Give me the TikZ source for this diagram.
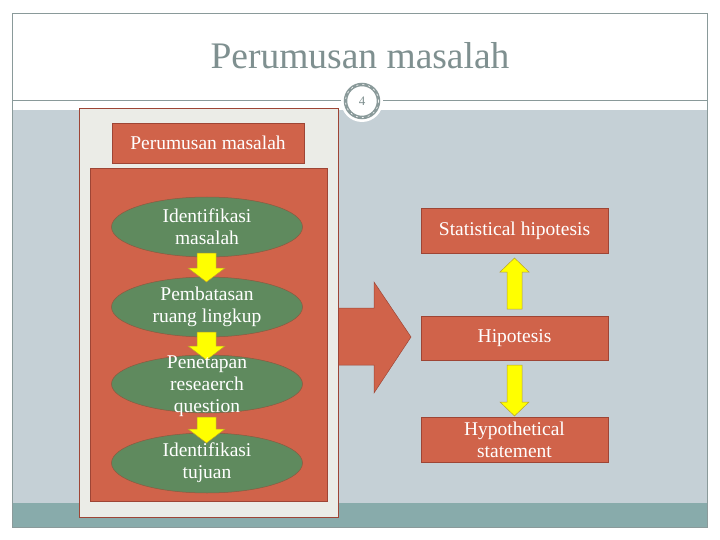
\documentclass[tikz,border=0pt]{standalone}
\usepackage{fontspec}
\setmainfont{Liberation Serif}
\usetikzlibrary{shapes.geometric,shapes.arrows}
\definecolor{redbox}{HTML}{D0634A}
\definecolor{redline}{HTML}{9E4535}
\definecolor{greenel}{HTML}{5F8A5E}
\definecolor{greenline}{HTML}{8A5A40}
\definecolor{panel}{HTML}{EBECE7}
\definecolor{band}{HTML}{C5D0D6}
\definecolor{teal}{HTML}{88ABAB}
\definecolor{framegray}{HTML}{8A9A9A}
\definecolor{titlegray}{HTML}{7F9090}
\definecolor{yel}{HTML}{FFFF00}
\definecolor{yelline}{HTML}{B8A030}
\tikzset{
  redrect/.style={draw=redline, fill=redbox, line width=0.6pt, text=white, font=\fontsize{19.5}{22}\selectfont, align=center, inner sep=0pt},
  greenell/.style={ellipse, draw=greenline, fill=greenel, line width=0.5pt, minimum width=191pt, minimum height=60pt, inner sep=0pt},
  elltext/.style={text=white, font=\fontsize{19.5}{22}\selectfont, align=center, inner sep=0pt},
  yarrow/.style={draw=yelline, fill=yel, line width=0.5pt},
}
\begin{document}
\begin{tikzpicture}[x=1pt,y=-1pt]
\useasboundingbox (0,0) rectangle (720,540);
\fill[white] (0,0) rectangle (720,540);
% slide frame
\fill[band] (12,110) rectangle (707,503);
\fill[teal] (12,503) rectangle (707,527);
\draw[framegray, line width=0.8pt] (12,13) rectangle (707,527);
\draw[framegray, line width=0.8pt] (12,100) -- (707,100);
% title
\node[text=titlegray, font=\fontsize{37.5}{42}\selectfont] (title) at (360,56) {Perumusan masalah};
% big arrow (behind panel)
\fill[redbox, draw=redline, line width=0.5pt] (330,308) -- (374,308) -- (374,282) -- (411,337) -- (374,393) -- (374,365) -- (330,365) -- cycle;
% left panel
\draw[redline, fill=panel, line width=0.6pt] (79,108) rectangle (338,517);
\node[redrect, minimum width=192pt, minimum height=40pt] (pm) at (208,143) {Perumusan masalah};
\draw[redline, fill=redbox, line width=0.5pt] (90,168) rectangle (327,501);
% ellipses
\node[greenell] (e1) at (207,227) {};
\node[greenell] (e2) at (207,307) {};
\node[greenell, minimum height=58pt] (e3) at (207,384) {};
\node[greenell] (e4) at (207,463) {};
% yellow arrows down (left)
\foreach \t/\b in {253/282, 332/360, 417/443}{
  \draw[yarrow] (197,\t) -- (216,\t) -- (216,{\b-14}) -- (225,{\b-14}) -- (206.5,\b) -- (188,{\b-14}) -- (197,{\b-14}) -- cycle;
}
\node[elltext] (t1) at (e1) {Identifikasi\\masalah};
\node[elltext] (t2) at (e2) {Pembatasan\\ruang lingkup};
\node[elltext] (t3) at (207,386) {Penetapan\\reseaerch\\question};
\node[elltext] (t4) at (e4) {Identifikasi\\tujuan};
% right boxes
\node[redrect, minimum width=187pt, minimum height=45pt] (sh) at (514.5,230.5) {Statistical hipotesis};
\node[redrect, minimum width=187pt, minimum height=44pt] (hp) at (514.5,338) {Hipotesis};
\node[redrect, minimum width=187pt, minimum height=45pt] (hs) at (514.5,439.5) {Hypothetical\\statement};
% up arrow
\draw[yarrow] (507,309) -- (507,272) -- (500,272) -- (514.5,258) -- (529,272) -- (522,272) -- (522,309) -- cycle;
% down arrow
\draw[yarrow] (507,365) -- (522,365) -- (522,402) -- (529,402) -- (514.5,416) -- (500,402) -- (507,402) -- cycle;
% page number circle
\fill[white] (362,101) circle (21);
\draw[framegray, line width=3.5pt] (362,101) circle (16.5);
\draw[white, line width=0.6pt, dash pattern=on 2pt off 4pt] (362,101) circle (16.5);
\node[text=titlegray, font=\fontsize{13}{14}\selectfont] (num) at (362,101) {4};
\end{tikzpicture}
\end{document}
